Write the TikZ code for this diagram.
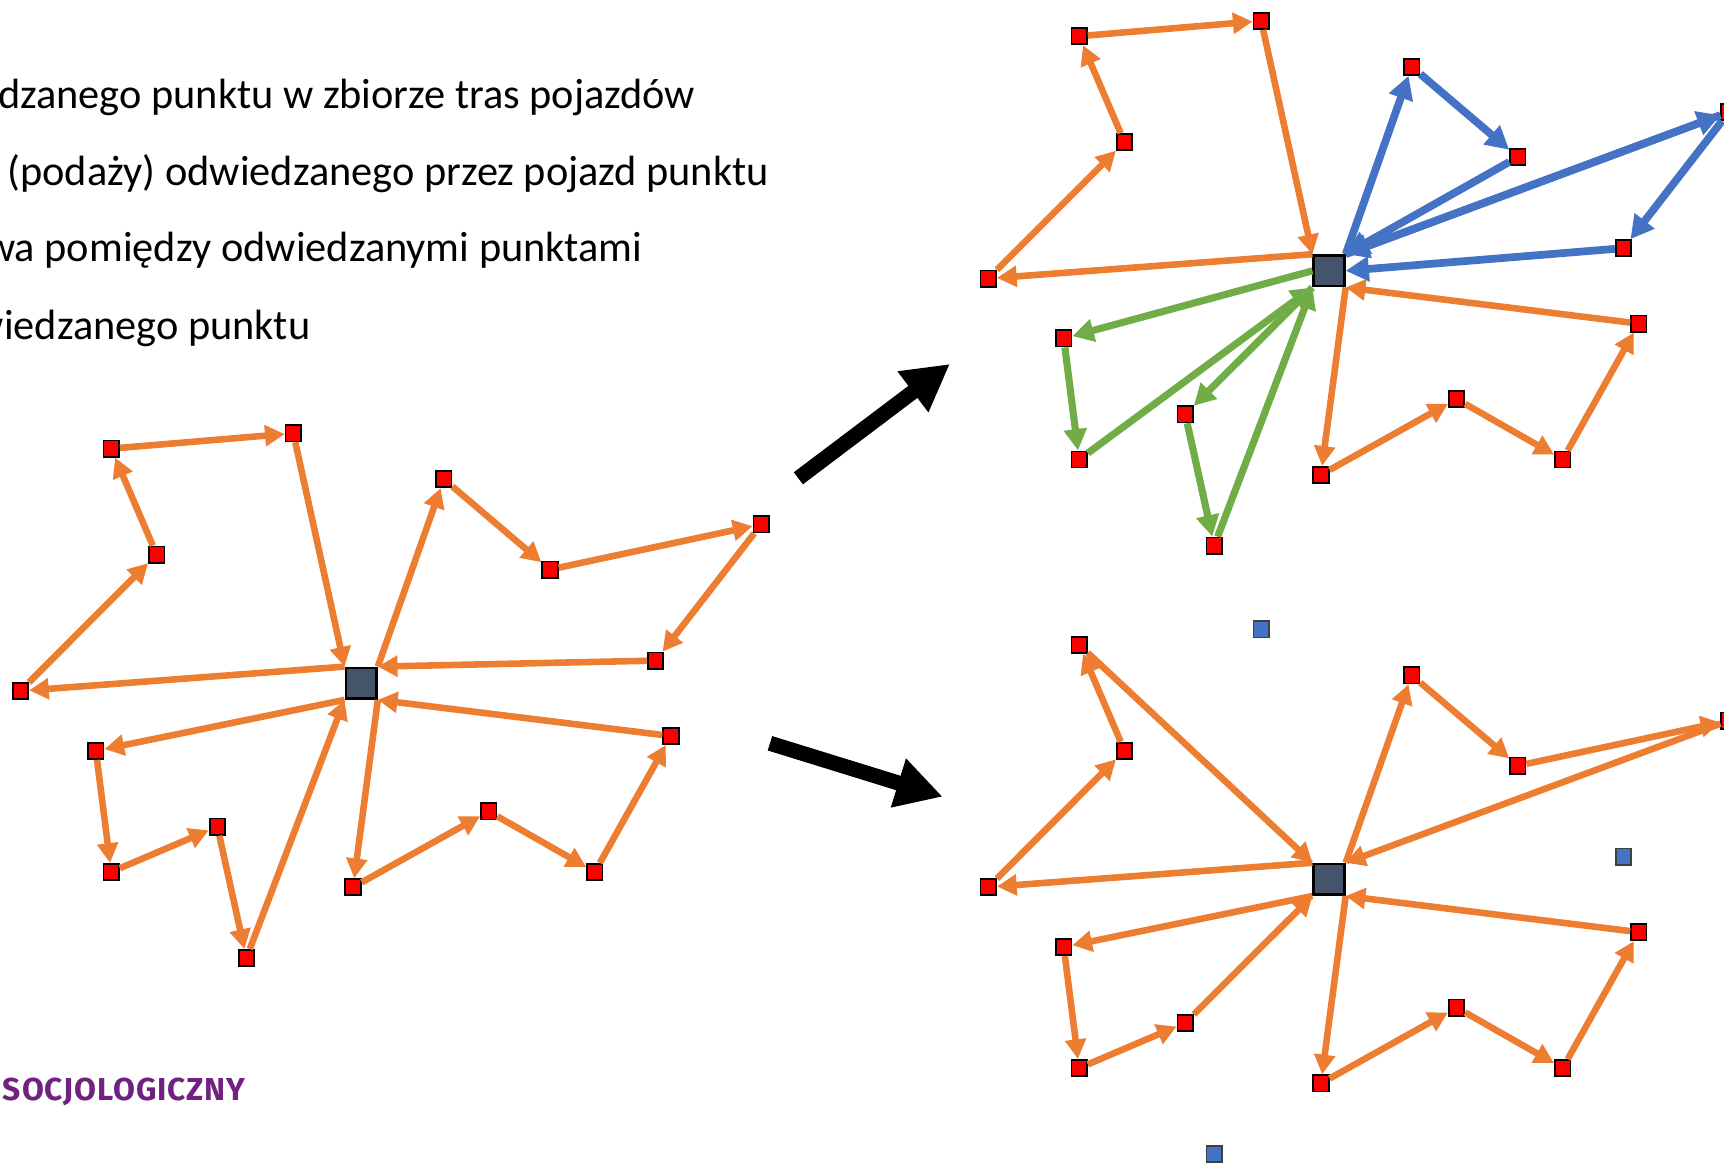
\documentclass[tikz,border=0pt]{standalone}
\usepackage{fontspec}
\setmainfont{Carlito}
\newfontfamily\logofont[LetterSpace=3]{Fira Sans}
\usetikzlibrary{arrows.meta}

\definecolor{pomaranczowy}{HTML}{ED7D31}
\definecolor{niebieski}{HTML}{4472C4}
\definecolor{zielony}{HTML}{70AD47}
\definecolor{grafit}{HTML}{44546A}
\definecolor{fiolet}{HTML}{712180}

% polozenie punktow wzgledem bazy (wspolne dla trzech rysunkow)
\newcommand{\punkty}{a1/-227.3/-213.4, a3/-186.0/-117.0, a4/-309.9/7.0,
  b1/75.2/-185.6, b2/171.7/-103.4, b3/363.8/-144.5,
  c1/-241.3/61.5, c2/-227.3/171.6, c3/-130.8/130.5,
  d1/-7.4/185.5, d2/116.0/116.6, d3/212.5/171.6, d4/281.7/48.0}
\newcommand{\wolne}{a2/-61.7/-227.3, b4/267.8/-20.6, c4/-104.4/249.9}

\begin{document}
\begin{tikzpicture}[x=0.01cm, y=-0.01cm,
    punkt/.style={draw=black, fill=red, line width=0.45pt, inner sep=0pt,
      minimum width=4pt, minimum height=4.2pt},
    wolny/.style={punkt, fill=niebieski, draw=black!75},
    baza/.style={draw=black, fill=grafit, line width=0.7pt, inner sep=0pt,
      minimum size=7.9pt},
    trasa/.style={line width=1.7pt, -{Triangle[length=0pt 3, width=0pt 3.1]}},
    strzalka/.style={line width=3.9pt, -{Triangle[length=12pt, width=12.4pt]}},
    opis/.style={anchor=base east, inner sep=0pt,
      font=\fontsize{10.95}{13}\selectfont}]
    \useasboundingbox (0,0) rectangle (1568,1062);
    \clip (0,0) rectangle (1568,1062);

    \node[opis] (w1) at (633,98.5) {dzanego punktu w zbiorze tras pojazdów};
    \node[opis] (w2) at (700,168.9) {(podaży) odwiedzanego przez pojazd punktu};
    \node[opis] (w3) at (585,238) {wa pomiędzy odwiedzanymi punktami};
    \node[opis] (w4) at (283,309.2) {wiedzanego punktu};
    \node[anchor=base west, inner sep=0pt, text=fiolet,
      font=\logofont\bfseries\fontsize{8.2}{10}\selectfont] (logo) at (2,1000.5) {SOCJOLOGICZNY};

    % lewy rysunek: cztery trasy
    \begin{scope}[shift={(328.5,621.4)}]
        \foreach \p/\x/\y in \punkty {\node[punkt] (L\p) at (\x,\y) {};}
        \foreach \p/\x/\y in \wolne {\node[punkt] (L\p) at (\x,\y) {};}
        \node[baza] (LD) at (0,0) {};
    \end{scope}
    \foreach \s/\t in {D.north west/a4, a4/a3, a3/a1, a1/a2, a2/D.north west,
        D.north east/b1, b1/b2, b2/b3, b3/b4, b4/D.north east,
        D.south west/c1, c1/c2, c2/c3, c3/c4, c4/D.south west,
        D.south east/d1, d1/d2, d2/d3, d3/d4, d4/D.south east}
        \draw[trasa, pomaranczowy] (L\s) -- (L\t);

    % gorny rysunek: trasy podzielone
    \begin{scope}[shift={(1208.8,246.3)}]
        \foreach \p/\x/\y in \punkty {\node[punkt] (G\p) at (\x,\y) {};}
        \foreach \p/\x/\y in \wolne {\node[punkt] (G\p) at (\x,\y) {};}
        \node[baza] (GD) at (0,0) {};
    \end{scope}
    \foreach \s/\t in {D.north west/a4, a4/a3, a3/a1, a1/a2, a2/D.north west,
        D.south east/d1, d1/d2, d2/d3, d3/d4, d4/D.south east}
        \draw[trasa, pomaranczowy] (G\s) -- (G\t);
    \foreach \s/\t in {D.north east/b1, b1/b2, b2/D.north east, D.north east/b3,
        b3/D.north east, b3/b4, b4/D.east}
        \draw[trasa, niebieski, line width=2pt] (G\s) -- (G\t);
    \foreach \s/\t in {D.west/c1, c1/c2, c2/D.south west, D.south west/c3, c3/c4, c4/D.south west}
        \draw[trasa, zielony, line width=1.85pt] (G\s) -- (G\t);

    % dolny rysunek: trzy punkty pominiete
    \begin{scope}[shift={(1208.8,799.8)}]
        \foreach \p/\x/\y in \punkty {\node[punkt] (D\p) at (\x,\y) {};}
        \foreach \p/\x/\y in \wolne {\node[wolny] (D\p) at (\x,\y) {};}
        \node[baza] (DD) at (0,0) {};
    \end{scope}
    \foreach \s/\t in {D.north west/a4, a4/a3, a3/a1, a1/D.north west,
        D.north east/b1, b1/b2, b2/b3, b3/D.north east,
        D.south west/c1, c1/c2, c2/c3, c3/D.south west,
        D.south east/d1, d1/d2, d2/d3, d3/d4, d4/D.south east}
        \draw[trasa, pomaranczowy] (D\s) -- (D\t);

    % duze strzalki
    \coordinate (s1a) at (726.1,435);
    \coordinate (s1b) at (864,331);
    \coordinate (s2a) at (700.3,676);
    \coordinate (s2b) at (857.4,724.6);
    \draw[strzalka] (s1a) -- (s1b);
    \draw[strzalka] (s2a) -- (s2b);
\end{tikzpicture}
\end{document}
